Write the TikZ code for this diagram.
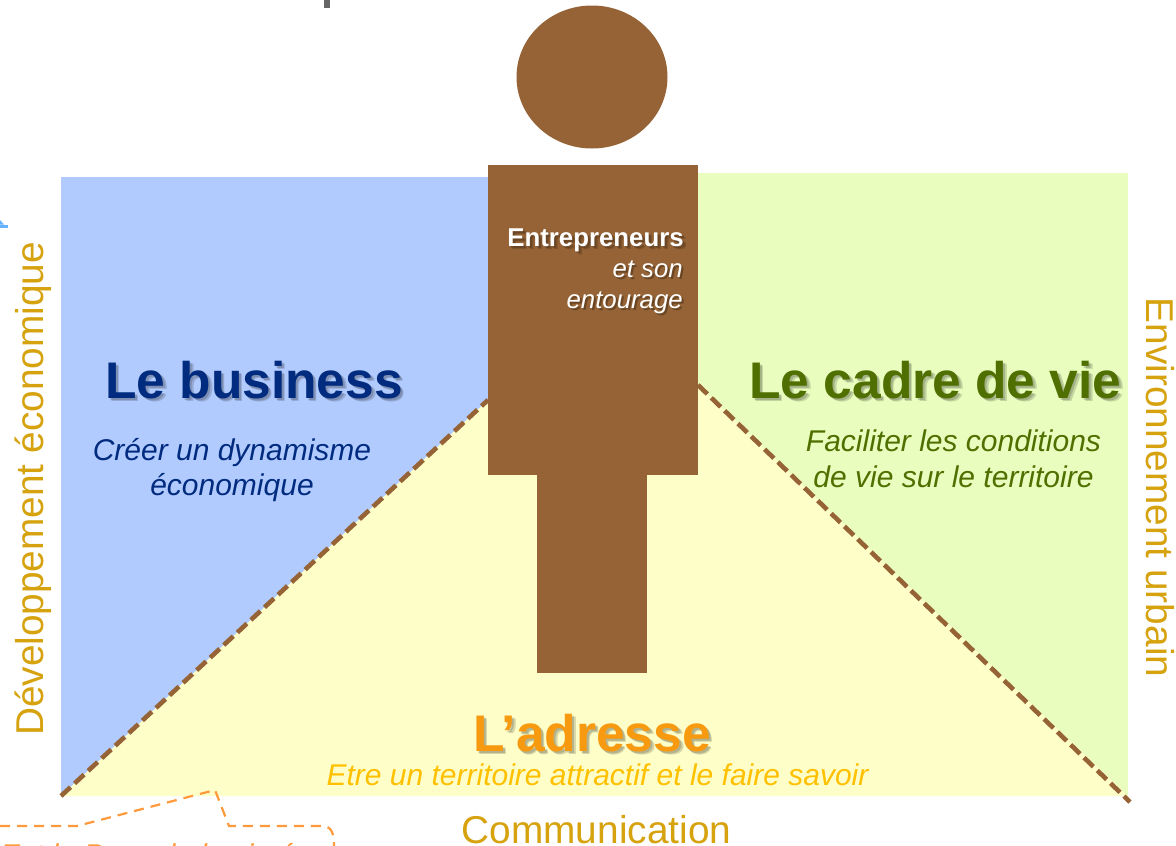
\documentclass[tikz,border=0pt]{standalone}
\usepackage{fontspec}
\usetikzlibrary{shapes.geometric}
\setmainfont{Liberation Sans}
\definecolor{brownfig}{HTML}{956335}
\definecolor{bluebg}{HTML}{B2CBFE}
\definecolor{greenbg}{HTML}{E9FEBE}
\definecolor{yellowbg}{HTML}{FEFEC8}
\definecolor{navyt}{HTML}{002B7F}
\definecolor{greent}{HTML}{4F6F00}
\definecolor{oranget}{HTML}{F79A10}
\definecolor{yellowt}{HTML}{FFC000}
\definecolor{goldt}{HTML}{D6A20E}
\definecolor{dashor}{HTML}{FF9A3C}
\newcommand{\shadowed}[5]{% name, position, colour, size, text
  \node[opacity=.16,black,font=\fontsize{#4}{#4}\selectfont\bfseries] at ([xshift=2pt,yshift=-2pt]#2) {#5};
  \node[opacity=.16,black,font=\fontsize{#4}{#4}\selectfont\bfseries] at ([xshift=3.5pt,yshift=-3.5pt]#2) {#5};
  \node[#3,font=\fontsize{#4}{#4}\selectfont\bfseries] (#1) at (#2) {#5};}
\begin{document}
\begin{tikzpicture}[x=1pt,y=-1pt,inner sep=0pt,
  figure/.style={fill=brownfig,draw=none},
  divider/.style={draw=brownfig,line width=4.6pt,dash pattern=on 13pt off 5.5pt},
  sub/.style={font=\fontsize{30}{35.5}\selectfont\itshape,align=center},
  axis/.style={goldt,font=\fontsize{38.8}{39}\selectfont},
  callout/.style={draw=dashor,line width=2.2pt,dash pattern=on 10pt off 7pt}]
\useasboundingbox (0,0) rectangle (1176,846);
\fill[white] (0,0) rectangle (1176,846);
% backgrounds
\fill[bluebg] (61,177) rectangle (488,796);
\fill[greenbg] (698,173) rectangle (1128,796);
\fill[yellowbg] (61,796) -- (488,400) -- (698,385) -- (1128,796) -- cycle;
% dividers
\coordinate (dl0) at (61,796); \coordinate (dl1) at (488,400);
\coordinate (dr0) at (698,385); \coordinate (dr1) at (1130,802);
\draw[divider] (dl0) -- (dl1);
\draw[divider] (dr0) -- (dr1);
% figure
\node[figure,ellipse,minimum width=151pt,minimum height=143pt] (head) at (592,77) {};
\node[figure,anchor=north west,minimum width=210pt,minimum height=310pt] (body) at (488,165) {};
\node[figure,anchor=north west,minimum width=110pt,minimum height=198pt] (legs) at (537,475) {};
% figure text
\shadowed{ent}{595.5,240}{white}{25.8}{Entrepreneurs}
\node[opacity=.3,black,font=\fontsize{25.8}{31}\selectfont\itshape,align=right,anchor=north east] at (685,262.5) {et son\\entourage};
\node[white,font=\fontsize{25.8}{31}\selectfont\itshape,align=right,anchor=north east] (entsub) at (683,260.5) {et son\\entourage};
% headings
\shadowed{biz}{254,380}{navyt}{51.5}{Le business}
\node[sub,navyt] (bizsub) at (232,470) {Créer un dynamisme\\économique};
\shadowed{cadre}{935.5,380}{greent}{51.5}{Le cadre de vie}
\node[sub,greent] (cadresub) at (953.5,459) {Faciliter les conditions\\de vie sur le territoire};
\shadowed{adr}{592,733}{oranget}{51.5}{L’adresse}
\node[yellowt,font=\fontsize{30}{30}\selectfont\itshape] (adrsub) at (597.5,775) {Etre un territoire attractif et le faire savoir};
% axes
\node[axis,rotate=90] (axl) at (33,489) {Développement économique};
\node[axis,rotate=-90] (axr) at (1160,487.5) {Environnement urbain};
\node[axis] (axb) at (596.5,830) {Communication};
% fragments
\clip (0,0) rectangle (1176,846);
\fill[black!60] (324,0) rectangle (330,8);
\fill[blue!50!cyan!60] (0,224.5) rectangle (8,228);
\fill[blue!50!cyan!60] (0,220) -- (4,224.5) -- (0,224.5) -- cycle;
\draw[callout] (0,826) -- (77,826) -- (215,790) -- (229,826) -- (322,826) .. controls (332,826) and (334,834) .. (334,846);
\node[dashor,font=\fontsize{30}{30}\selectfont\itshape,anchor=base west] (frag) at (0,865) {Est le Pays de la vie é};
\end{tikzpicture}
\end{document}
